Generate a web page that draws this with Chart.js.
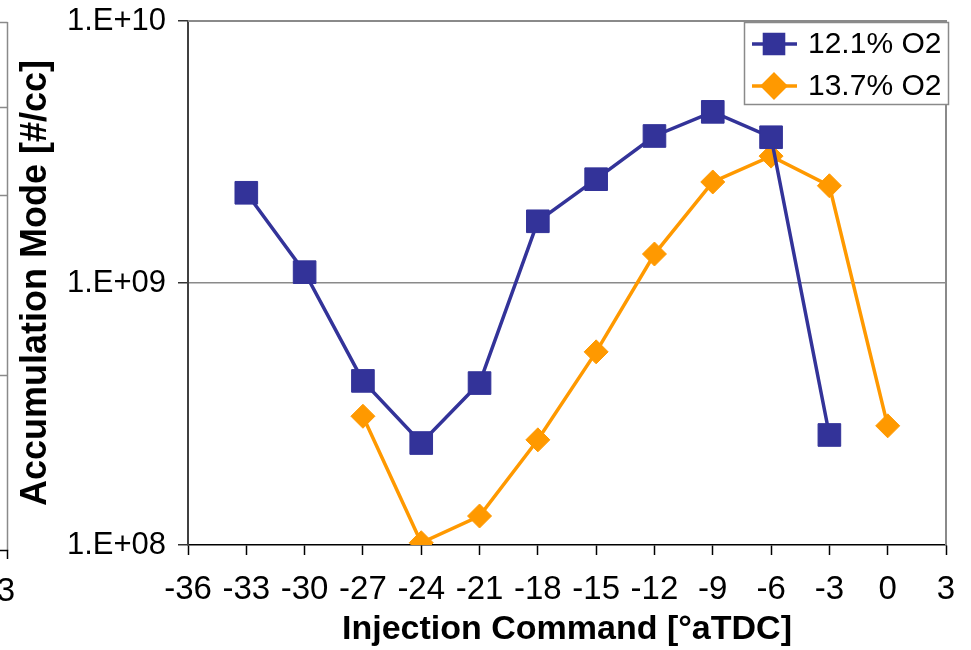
<!DOCTYPE html>
<html>
<head>
<meta charset="utf-8">
<script src="https://cdn.jsdelivr.net/npm/chart.js@4/dist/chart.umd.min.js"></script>
<style>
  html, body { margin: 0; padding: 0; background: #fff; }
  #wrap { width: 971px; height: 650px; }
</style>
</head>
<body>
<div id="wrap"><canvas id="c" width="971" height="650"></canvas></div>
<script>
// Injection timing sweep: accumulation-mode particle number vs injection command
const injection121 = [-33, -30, -27, -24, -21, -18, -15, -12, -9, -6, -3];
const accum121 = [2.21e9, 1.10e9, 4.23e8, 2.45e8, 4.15e8, 1.72e9, 2.49e9, 3.64e9, 4.50e9, 3.60e9, 2.63e8];

const injection137 = [-27, -24, -21, -18, -15, -12, -9, -6, -3, 0];
const accum137 = [3.10e8, 1.02e8, 1.29e8, 2.52e8, 5.46e8, 1.29e9, 2.43e9, 3.05e9, 2.35e9, 2.85e8];

const seriesLabels = ['12.1% O2', '13.7% O2'];
const xTickValues = [-36, -33, -30, -27, -24, -21, -18, -15, -12, -9, -6, -3, 0, 3];
const yTickValues = [1e8, 1e9, 1e10];

const FONT = "'Liberation Sans', Arial, sans-serif";
const BLUE = '#333399';
const ORANGE = '#FF9900';

function toPoints(xs, ys) {
  return xs.map((x, i) => ({ x: x, y: ys[i] }));
}

function sciLabel(v) {
  const exp = Math.round(Math.log10(v));
  const mant = v / Math.pow(10, exp);
  return mant.toFixed(0) + '.E+' + String(exp).padStart(2, '0');
}

// Gray frame on the top and right of the plot area
const framePlugin = {
  id: 'frame',
  afterDraw(chart) {
    const { ctx, chartArea: a } = chart;
    ctx.save();
    ctx.strokeStyle = '#8a8a8a';
    ctx.lineWidth = 2;
    ctx.beginPath();
    ctx.moveTo(a.left, a.top);
    ctx.lineTo(a.right, a.top);
    ctx.lineTo(a.right, a.bottom);
    ctx.stroke();
    ctx.restore();
  }
};

// Edge of the neighbouring panel on the left
const neighbourPlugin = {
  id: 'neighbour',
  afterDraw(chart) {
    const ctx = chart.ctx;
    ctx.save();
    ctx.strokeStyle = '#8a8a8a';
    ctx.lineWidth = 1.5;
    ctx.beginPath();
    ctx.moveTo(7.5, 22); ctx.lineTo(7.5, 551);
    [22.5, 107.5, 195.5, 375.5].forEach(y => { ctx.moveTo(0, y); ctx.lineTo(7.5, y); });
    ctx.stroke();
    ctx.strokeStyle = '#000';
    ctx.beginPath();
    ctx.moveTo(0, 550.5); ctx.lineTo(7.5, 550.5); ctx.lineTo(7.5, 559);
    ctx.stroke();
    ctx.fillStyle = '#000';
    ctx.font = '33px ' + FONT;
    ctx.textAlign = 'center';
    ctx.textBaseline = 'middle';
    ctx.fillText('3', 6, 592);
    ctx.restore();
  }
};

// Boxed legend in the upper right corner of the plot
const boxLegendPlugin = {
  id: 'boxLegend',
  afterDraw(chart) {
    const ctx = chart.ctx;
    const a = chart.chartArea;
    const boxW = 204, boxH = 82;
    const bx = a.right + 2 - boxW, by = a.top + 1;
    ctx.save();
    ctx.fillStyle = '#fff';
    ctx.fillRect(bx, by, boxW, boxH);
    ctx.strokeStyle = '#8a8a8a';
    ctx.lineWidth = 1.5;
    ctx.strokeRect(bx + 0.5, by + 0.5, boxW, boxH);
    chart.data.datasets.forEach((ds, i) => {
      const cy = by + 22 + i * 42;
      ctx.strokeStyle = ds.borderColor;
      ctx.lineWidth = 3.5;
      ctx.beginPath();
      ctx.moveTo(bx + 8, cy);
      ctx.lineTo(bx + 53, cy);
      ctx.stroke();
      ctx.fillStyle = ds.pointBackgroundColor;
      ctx.strokeStyle = ds.pointBorderColor;
      Chart.helpers.drawPoint(ctx, {
        pointStyle: ds.pointStyle,
        radius: ds.pointStyle === 'rect' ? 13.5 : 11.5,
        borderWidth: 1,
        rotation: 0
      }, bx + 30, cy);
      ctx.fillStyle = '#000';
      ctx.font = '30px ' + FONT;
      ctx.textAlign = 'left';
      ctx.textBaseline = 'middle';
      ctx.fillText(ds.label, bx + 64, cy + 1);
    });
    ctx.restore();
  }
};

new Chart(document.getElementById('c'), {
  type: 'line',
  data: {
    datasets: [
      {
        label: seriesLabels[0],
        data: toPoints(injection121, accum121),
        borderColor: BLUE,
        backgroundColor: BLUE,
        pointBackgroundColor: BLUE,
        pointBorderColor: BLUE,
        borderWidth: 3.5,
        pointStyle: 'rect',
        pointRadius: 16,
        pointBorderWidth: 1,
        tension: 0
      },
      {
        label: seriesLabels[1],
        data: toPoints(injection137, accum137),
        borderColor: ORANGE,
        backgroundColor: ORANGE,
        pointBackgroundColor: ORANGE,
        pointBorderColor: ORANGE,
        borderWidth: 3.5,
        pointStyle: 'rectRot',
        pointRadius: 12,
        pointBorderWidth: 1,
        tension: 0
      }
    ]
  },
  options: {
    responsive: false,
    animation: false,
    devicePixelRatio: 1,
    layout: { padding: { left: 14, right: 25, top: 21, bottom: 0 } },
    plugins: {
      legend: { display: false },
      tooltip: { enabled: false }
    },
    scales: {
      x: {
        type: 'linear',
        min: -36,
        max: 3,
        afterBuildTicks(scale) { scale.ticks = xTickValues.map(v => ({ value: v })); },
        afterFit(scale) { scale.height = 105; },
        ticks: {
          color: '#000',
          font: { family: FONT, size: 33 },
          padding: 15,
          maxRotation: 0,
          autoSkip: false
        },
        grid: {
          drawOnChartArea: false,
          drawTicks: true,
          tickLength: 10,
          tickColor: '#000',
          tickWidth: 1.5
        },
        border: { color: '#000', width: 1.5 },
        title: {
          display: true,
          text: 'Injection Command [°aTDC]',
          color: '#000',
          font: { family: FONT, size: 34, weight: 'bold' },
          padding: { top: 0, bottom: 0 }
        }
      },
      y: {
        type: 'logarithmic',
        min: 1e8,
        max: 1e10,
        afterBuildTicks(scale) { scale.ticks = yTickValues.map(v => ({ value: v })); },
        afterFit(scale) {
          scale.width = 174;
          scale.paddingTop = 0;
          scale.paddingBottom = 0;
        },
        ticks: {
          color: '#000',
          font: { family: FONT, size: 31 },
          padding: 12,
          callback: (v) => sciLabel(v)
        },
        grid: {
          color: (c) => (c.tick && c.tick.value === 1e8) ? 'rgba(0,0,0,0)' : '#8a8a8a',
          lineWidth: 1.5,
          drawTicks: true,
          tickLength: 10,
          tickColor: '#333',
          tickWidth: 1.5
        },
        border: { color: '#404040', width: 2 },
        title: {
          display: true,
          text: 'Accumulation Mode [#/cc]',
          color: '#000',
          font: { family: FONT, size: 36, weight: 'bold' },
          padding: { top: 0, bottom: 0 }
        }
      }
    }
  },
  plugins: [framePlugin, neighbourPlugin, boxLegendPlugin]
});
</script>
</body>
</html>
